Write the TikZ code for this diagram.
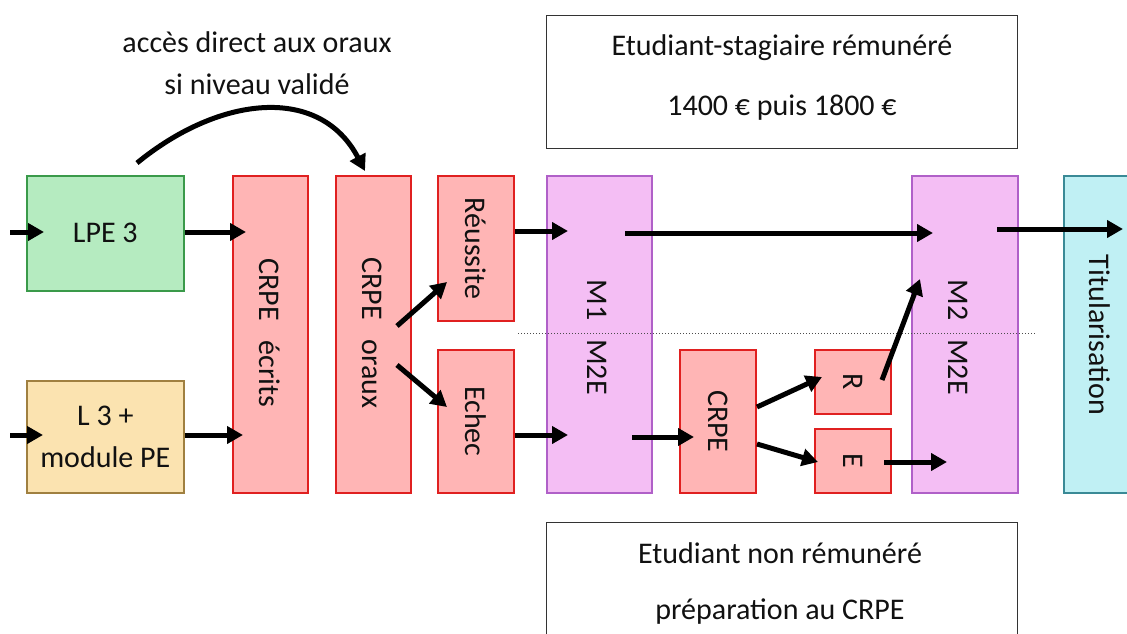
\documentclass[tikz,border=0pt]{standalone}
\usepackage{fontspec}
\setmainfont{Carlito}
\usetikzlibrary{arrows.meta}
\definecolor{gfill}{HTML}{B5EBC0}\definecolor{gdraw}{HTML}{3A9A4A}
\definecolor{tfill}{HTML}{FBE3B0}\definecolor{tdraw}{HTML}{A08040}
\definecolor{rfill}{HTML}{FFB5B5}\definecolor{rdraw}{HTML}{E02020}
\definecolor{vfill}{HTML}{F4BEF4}\definecolor{vdraw}{HTML}{B060C8}
\definecolor{cfill}{HTML}{C0F0F4}\definecolor{cdraw}{HTML}{3A8A96}
\definecolor{txt}{HTML}{111111}
\tikzset{
  box/.style={draw, line width=1.6pt, anchor=north west, inner sep=0pt},
  gbox/.style={box, fill=gfill, draw=gdraw},
  tbox/.style={box, fill=tfill, draw=tdraw},
  rbox/.style={box, fill=rfill, draw=rdraw},
  vbox/.style={box, fill=vfill, draw=vdraw},
  cbox/.style={box, fill=cfill, draw=cdraw},
  wbox/.style={box, fill=white, draw=black!80, line width=1.2pt},
  lab/.style={text=txt, font=\fontsize{30}{36}\selectfont, inner sep=0pt},
  vlab/.style={lab, rotate=-90},
  arr/.style={line width=5pt, -{Triangle[length=16pt,width=17pt]}},
}
\begin{document}
\begin{tikzpicture}[x=1pt,y=-1pt]
\useasboundingbox (0,0) rectangle (1127,634);
\clip (0,0) rectangle (1127,634);
% boxes
\node[wbox, minimum width=471pt, minimum height=133pt] (top) at (546,15) {};
\node[wbox, minimum width=471pt, minimum height=140pt] (bot) at (546,522) {};
\node[gbox, minimum width=157pt, minimum height=115pt] (lpe) at (26,175) {};
\node[tbox, minimum width=157pt, minimum height=112pt] (l3) at (26,380) {};
\node[rbox, minimum width=75pt, minimum height=317pt] (ecr) at (232,175) {};
\node[rbox, minimum width=75pt, minimum height=317pt] (ora) at (335,175) {};
\node[rbox, minimum width=76pt, minimum height=145pt] (reu) at (437,175) {};
\node[rbox, minimum width=76pt, minimum height=143pt] (ech) at (437,349) {};
\node[vbox, minimum width=105pt, minimum height=317pt] (m1) at (546,175) {};
\node[rbox, minimum width=76pt, minimum height=143pt] (crpe) at (679,349) {};
\node[rbox, minimum width=76pt, minimum height=64pt] (r) at (814,349) {};
\node[rbox, minimum width=76pt, minimum height=64pt] (e) at (814,428) {};
\node[vbox, minimum width=106pt, minimum height=317pt] (m2) at (911,175) {};
\node[cbox, minimum width=90pt, minimum height=317pt] (tit) at (1063,175) {};
% dotted separator
\coordinate (dl) at (518,333);
\coordinate (dr) at (1035,333);
\draw[line width=1pt, dotted, black!70] (dl) -- (dr);
% labels
\node[lab] (t1) at (257,42) {accès direct aux oraux};
\node[lab] (t2) at (257,84) {si niveau validé};
\node[lab] (top1) at (782,48) {Etudiant-stagiaire rémunéré};
\node[lab] (top2) at (782,108) {1400 € puis 1800 €};
\node[lab] (bot1) at (780,553) {Etudiant non rémunéré};
\node[lab] (bot2) at (780,612) {préparation au CRPE};
\node[lab] at (lpe.center) {LPE 3};
\node[lab, align=center, font=\fontsize{30}{42}\selectfont] at (l3.center) {L 3 +\\module PE};
\node[vlab] at (270,333) {CRPE\hspace{20pt}écrits};
\node[vlab] at (372,333) {CRPE\hspace{20pt}oraux};
\node[vlab] at (reu.center) {Réussite};
\node[vlab] at (ech.center) {Echec};
\node[vlab] at (597,300) {M1};
\node[vlab] at (597,367) {M2E};
\node[vlab] at (crpe.center) {CRPE};
\node[vlab] at (r.center) {R};
\node[vlab] at (e.center) {E};
\node[vlab] at (958,300) {M2};
\node[vlab] at (958,367) {M2E};
\node[vlab] at (1100,335) {Titularisation};
% arrow end points
\coordinate (s1) at (10,232);
\coordinate (s1e) at (44,232);
\coordinate (s2) at (10,435);
\coordinate (s2e) at (43,435);
\coordinate (c1) at (137,163);
\coordinate (c2) at (365,171);
\coordinate (oa) at (397,326);
\coordinate (ob) at (397,365);
\coordinate (reuin) at (447,282);
\coordinate (echin) at (447,407);
\coordinate (m1a) at (568,231);
\coordinate (m1b) at (625,233);
\coordinate (m2a) at (933,233);
\coordinate (m2ea) at (568,435);
\coordinate (m2eb) at (632,437);
\coordinate (crpea) at (694,437);
\coordinate (crpeb) at (757,407);
\coordinate (crpec) at (757,444);
\coordinate (rin) at (822,377);
\coordinate (rout) at (882,380);
\coordinate (ein) at (818,462);
\coordinate (eout) at (884,462);
\coordinate (m2ein) at (947,462);
\coordinate (m2in) at (920,279);
\coordinate (m2out) at (997,229);
\coordinate (titin) at (1123,229);
% arrows
\draw[arr] (s1) -- (s1e);
\draw[arr] (lpe.east |- s1) -- (246,232);
\draw[arr] (s2) -- (s2e);
\draw[arr] (l3.east |- s2) -- (243,435);
\draw[arr] (c1) .. controls (220,95) and (320,85) .. (c2);
\draw[arr] (oa) -- (reuin);
\draw[arr] (ob) -- (echin);
\draw[arr] (reu.east |- m1a) -- (m1a);
\draw[arr] (m1b) -- (m2a);
\draw[arr] (ech.east |- m2ea) -- (m2ea);
\draw[arr] (m2eb) -- (crpea);
\draw[arr] (crpeb) -- (rin);
\draw[arr] (crpec) -- (ein);
\draw[arr] (rout) -- (m2in);
\draw[arr] (eout) -- (m2ein);
\draw[arr] (m2out) -- (titin);
\end{tikzpicture}
\end{document}
